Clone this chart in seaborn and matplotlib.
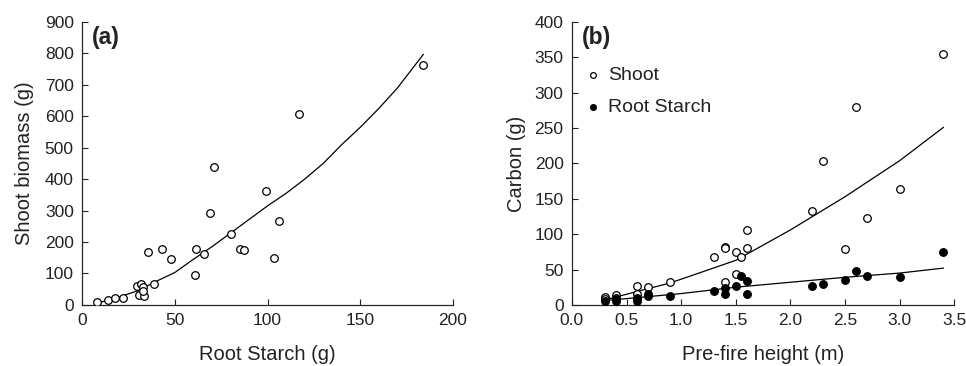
import matplotlib
matplotlib.use("Agg")
import matplotlib.pyplot as plt
import pandas as pd
import seaborn as sns

# Panel (a): shoot biomass vs root starch
starch_a = [8, 14, 18, 22, 29.5, 32, 33, 30.5, 33.5, 33, 38.5, 35.5, 43, 48,
            61, 61.5, 65.5, 69, 71, 80.5, 85, 87.5, 99, 103.5, 106, 117, 184]
shoot_a = [10, 15, 23, 23, 61, 67, 56, 33, 29, 45, 66, 169, 178, 145,
           95, 178, 163, 291, 440, 224, 178, 174, 361, 150, 266, 607, 762]
fit_a_x = [8, 20, 30, 40, 50, 60, 70, 85, 100, 110, 120, 130, 140, 150, 160, 170, 184]
fit_a_y = [5, 25, 45, 75, 103, 145, 185, 250, 315, 355, 400, 450, 510, 565, 625, 690, 797]

# Panel (b): carbon vs pre-fire height
height_shoot = [0.3, 0.3, 0.4, 0.4, 0.6, 0.6, 0.7, 0.9, 1.3, 1.4, 1.4, 1.4, 1.5, 1.5,
                1.55, 1.6, 1.6, 2.2, 2.3, 2.5, 2.6, 2.7, 3.0, 3.4]
carbon_shoot = [11, 8, 14, 10, 27, 16, 25, 32, 67, 82, 80, 32, 75, 44,
                68, 106, 81, 133, 204, 79, 280, 123, 164, 355]
height_root = [0.3, 0.4, 0.4, 0.6, 0.6, 0.7, 0.7, 0.9, 1.3, 1.4, 1.4, 1.5, 1.55,
               1.6, 1.6, 2.2, 2.3, 2.5, 2.6, 2.7, 3.0, 3.4]
carbon_root = [6, 5, 8, 5, 10, 12, 16, 13, 19, 16, 24, 26, 41,
               34, 15, 27, 29, 35, 48, 41, 40, 75]
fit_shoot_x = [0.3, 0.5, 0.9, 1.5, 2.0, 2.5, 3.0, 3.4]
fit_shoot_y = [7, 15, 31, 63, 106, 153, 204, 251]
fit_root_x = [0.3, 1.0, 1.5, 2.0, 2.5, 3.0, 3.4]
fit_root_y = [6, 16, 25, 32, 39, 45, 52]

sns.set_style("ticks")
plt.rcParams['font.family'] = ['Liberation Sans', 'DejaVu Sans']
plt.rcParams['text.color'] = '#222222'
plt.rcParams['axes.labelcolor'] = '#222222'

fig = plt.figure(figsize=(9.66, 3.66), dpi=100)
ax1 = fig.add_axes([0.085, 0.167, 0.384, 0.773])
ax2 = fig.add_axes([0.592, 0.167, 0.396, 0.773])

df_a = pd.DataFrame({'starch': starch_a, 'shoot': shoot_a})
df_fa = pd.DataFrame({'x': fit_a_x, 'y': fit_a_y})
sns.lineplot(data=df_fa, x='x', y='y', color='black', lw=0.9, ax=ax1)
sns.scatterplot(data=df_a, x='starch', y='shoot', ax=ax1, s=30, marker='o',
                facecolor='white', edgecolor='black', linewidth=0.9, zorder=3)

df_s = pd.DataFrame({'h': height_shoot, 'c': carbon_shoot})
df_r = pd.DataFrame({'h': height_root, 'c': carbon_root})
sns.lineplot(data=pd.DataFrame({'x': fit_shoot_x, 'y': fit_shoot_y}), x='x', y='y',
             color='black', lw=0.9, ax=ax2)
sns.lineplot(data=pd.DataFrame({'x': fit_root_x, 'y': fit_root_y}), x='x', y='y',
             color='black', lw=0.9, ax=ax2)
sns.scatterplot(data=df_s, x='h', y='c', ax=ax2, s=30, marker='o', facecolor='white',
                edgecolor='black', linewidth=0.9, zorder=3, label='Shoot')
sns.scatterplot(data=df_r, x='h', y='c', ax=ax2, s=30, marker='o', facecolor='black',
                edgecolor='black', linewidth=0.9, zorder=3, label='Root Starch')

ax1.set_xlim(0, 200)
ax1.set_ylim(0, 900)
ax1.set_xticks(range(0, 201, 50))
ax1.set_yticks(range(0, 901, 100))
ax1.set_xlabel("Root Starch (g)", fontsize=14.5, labelpad=12)
ax1.set_ylabel("Shoot biomass (g)", fontsize=14.5, labelpad=8)
ax1.text(0.025, 0.985, "(a)", transform=ax1.transAxes, fontsize=16.5,
         fontweight='bold', va='top', ha='left')

ax2.set_xlim(0, 3.5)
ax2.set_ylim(0, 400)
ax2.set_xticks([0.0, 0.5, 1.0, 1.5, 2.0, 2.5, 3.0, 3.5])
ax2.set_xticklabels(["0.0", "0.5", "1.0", "1.5", "2.0", "2.5", "3.0", "3.5"])
ax2.set_yticks(range(0, 401, 50))
ax2.set_xlabel("Pre-fire height (m)", fontsize=14.5, labelpad=12)
ax2.set_ylabel("Carbon (g)", fontsize=14.5, labelpad=6)
ax2.text(0.025, 0.985, "(b)", transform=ax2.transAxes, fontsize=16.5,
         fontweight='bold', va='top', ha='left')
leg = ax2.legend(loc='upper left', bbox_to_anchor=(-0.01, 0.885), frameon=False,
                 fontsize=14, handletextpad=0.05, handlelength=1.4, markerscale=0.75,
                 labelspacing=0.75, borderaxespad=0.2)

for ax in (ax1, ax2):
    sns.despine(ax=ax)
    ax.tick_params(direction='in', length=4, width=0.8, labelsize=12.5,
                   colors='#222222', pad=6)
    for sp in ax.spines.values():
        sp.set_linewidth(0.9)

fig.savefig("out.png", dpi=100)
